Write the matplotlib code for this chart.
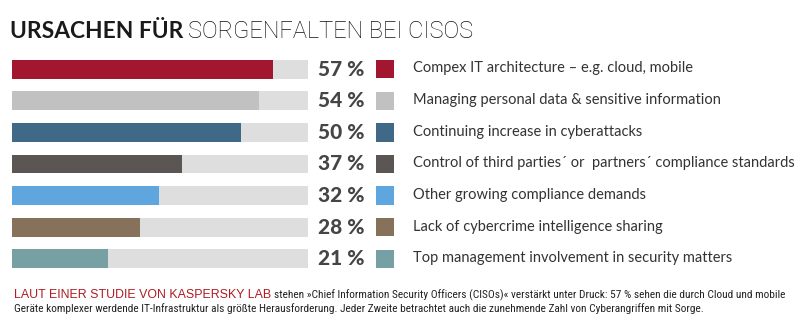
import matplotlib
matplotlib.use("Agg")
import matplotlib.pyplot as plt
from matplotlib.patches import Rectangle
from matplotlib.transforms import blended_transform_factory

categories = [
    "Compex IT architecture \u2013 e.g. cloud, mobile",
    "Managing personal data & sensitive information",
    "Continuing increase in cyberattacks",
    "Control of third parties\u00b4 or  partners\u00b4 compliance standards",
    "Other growing compliance demands",
    "Lack of cybercrime intelligence sharing",
    "Top management involvement in security matters",
]
values = [57, 54, 50, 37, 32, 28, 21]
colors = ["#a3162f", "#c2c1c2", "#3f6986", "#5b5553", "#5fa6df", "#86725a", "#77a0a4"]

title_bold = "URSACHEN FÜR"
title_light = "SORGENFALTEN BEI CISOS"
foot_red = "LAUT EINER STUDIE VON KASPERSKY LAB"
foot_1 = "stehen »Chief Information Security Officers (CISOs)« verstärkt unter Druck: 57 % sehen die durch Cloud und mobile"
foot_2 = "Geräte komplexer werdende IT-Infrastruktur als größte Herausforderung. Jeder Zweite betrachtet auch die zunehmende Zahl von Cyberangriffen mit Sorge."

narrow = ["Roboto Condensed", "Liberation Sans Narrow", "Liberation Sans"]

W, H = 800, 336
fig = plt.figure(figsize=(W / 100, H / 100), dpi=100)
fig.patch.set_facecolor("white")
renderer = fig.canvas.get_renderer()

def fx(px):
    return px / W

def fy(py):
    return 1 - py / H

def fit(t, width_px):
    w = t.get_window_extent(renderer=renderer).width
    t.set_fontsize(t.get_fontsize() * width_px / w)

track_max = 64.6
top, bot = 53.2, 274.8
ax = fig.add_axes([fx(12), fy(bot), fx(296), (bot - top) / H])
n = len(values)
ys = list(range(n))
ax.barh(ys, [track_max] * n, height=0.6, color="#dedede", linewidth=0)
ax.barh(ys, values, height=0.6, color=colors, linewidth=0)
ax.set_xlim(0, track_max)
ax.set_ylim(n - 0.5, -0.5)
ax.axis("off")

tr = blended_transform_factory(fig.transFigure, ax.transData)
labs = []
for i, (v, c, lab) in enumerate(zip(values, colors, categories)):
    ax.text(fx(364), i, f"{v} %", transform=tr, ha="right", va="center",
            fontsize=15, fontweight="black", color="#454545", family="Lato")
    ax.add_patch(Rectangle((fx(376), i - 0.29), fx(18), 0.58, transform=tr,
                           color=c, clip_on=False, linewidth=0))
    labs.append(ax.text(fx(413), i - 0.02, lab, transform=tr, ha="left", va="center",
                        fontsize=11.0, color="#333333", family="Lato"))

widths = [t.get_window_extent(renderer=renderer).width for t in labs]
scale = 379 / max(widths)
for t in labs:
    t.set_fontsize(t.get_fontsize() * scale)

t1 = fig.text(fx(10), fy(38), title_bold, fontsize=16.5, fontweight="bold",
              color="#1a1a1a", family="Lato", va="baseline")
fit(t1, 173)
bb = t1.get_window_extent(renderer=renderer)
t2 = fig.text(bb.x1 / W + fx(5), fy(38), title_light, fontsize=t1.get_fontsize(),
              fontweight="light", color="#111111", family="Roboto", va="baseline")
fit(t2, 475 - bb.x1 - 5)

f1 = fig.text(fx(14), fy(298), foot_red, fontsize=8.5, color="#b01c22",
              family="Liberation Sans", va="baseline")
fit(f1, 256)
bb = f1.get_window_extent(renderer=renderer)
f1b = fig.text(bb.x1 / W + fx(3), fy(298), foot_1, fontsize=7.6, color="#222222",
               family=narrow, va="baseline")
fit(f1b, 778 - bb.x1 - 3)
f2 = fig.text(fx(14), fy(312), foot_2, fontsize=7.6, color="#222222",
              family=narrow, va="baseline")
fit(f2, 686)

fig.savefig("out.png", dpi=100, facecolor="white")
